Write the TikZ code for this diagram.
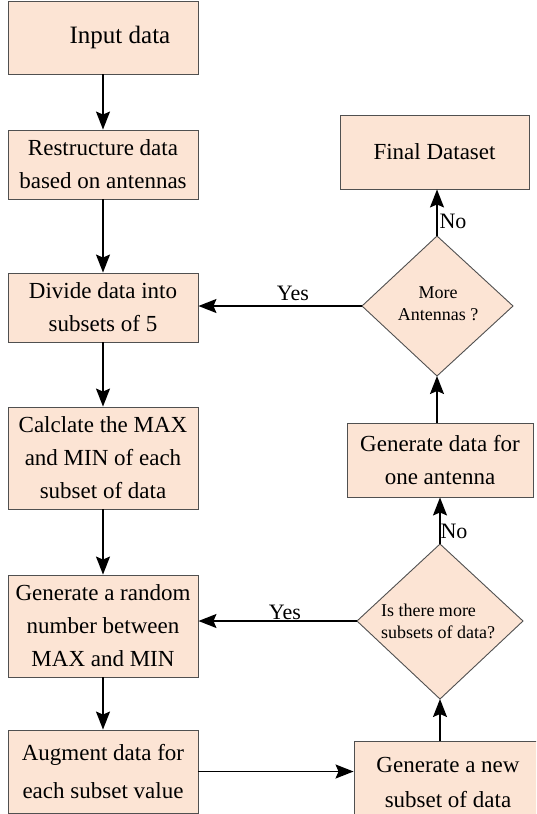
\documentclass[tikz,border=0pt]{standalone}
\usepackage{fontspec}
\setmainfont{Liberation Serif}
\usetikzlibrary{arrows.meta}
\definecolor{peach}{RGB}{252,228,212}
\definecolor{edgegray}{RGB}{80,80,80}
\begin{document}
\begin{tikzpicture}[x=1pt,y=-1pt,
  box/.style={draw=edgegray, fill=peach, line width=0.9pt, inner sep=0pt, align=center,
              minimum width=190pt, font=\fontsize{23}{33}\selectfont},
  dshape/.style={draw=edgegray, fill=peach, line width=0.9pt},
  dtext/.style={inner sep=0pt, font=\fontsize{18}{22}\selectfont},
  lbl/.style={inner sep=0pt, font=\fontsize{22}{26}\selectfont},
  arr/.style={draw=black, line width=1.5pt, -{Stealth[length=18pt,width=14pt,inset=3pt]}}]
\clip (0,0) rectangle (536,814);

% left column
\node[box, minimum height=73pt, font=\fontsize{25}{33}\selectfont] (input) at (103,37.5) {\hspace{34pt}Input data};
\node[box, minimum height=69pt] (restr) at (103,164.5) {Restructure data\\based on antennas};
\node[box, minimum height=69pt] (divide) at (103,307.5) {Divide data into\\subsets of 5};
\node[box, minimum height=102pt] (calc) at (103,458) {Calclate the MAX\\and MIN of each\\subset of data};
\node[box, minimum height=102pt] (rand) at (103,626) {Generate a random\\number between\\MAX and MIN};
\node[box, minimum height=83pt, font=\fontsize{23}{38}\selectfont] (augm) at (103,771.5) {Augment data for\\each subset value};

% right column
\node[box, minimum width=189pt, minimum height=74pt] (final) at (434.5,152) {Final Dataset};
\node[box, minimum width=186pt, minimum height=74pt] (genone) at (440,460) {Generate data for\\one antenna};
\node[box, minimum width=188pt, minimum height=82pt, font=\fontsize{23}{35}\selectfont] (newsub) at (448,782) {Generate a new\\subset of data};

% diamond 1
\coordinate (d1t) at (437,236);
\coordinate (d1r) at (513,306);
\coordinate (d1b) at (437,376);
\coordinate (d1l) at (362,306);
\draw[dshape] (d1t) -- (d1r) -- (d1b) -- (d1l) -- cycle;
\node[dtext, align=center] (d1txt) at (438,304) {More\\Antennas ?};

% diamond 2
\coordinate (d2t) at (440,544);
\coordinate (d2r) at (523,621);
\coordinate (d2b) at (440,699);
\coordinate (d2l) at (357,621);
\draw[dshape] (d2t) -- (d2r) -- (d2b) -- (d2l) -- cycle;
\node[dtext, align=left] (d2txt) at (438,621) {Is there more\\subsets of data?};

% connectors
\draw[arr] (input) -- (restr);
\draw[arr] (restr) -- (divide);
\draw[arr] (divide) -- (calc);
\draw[arr] (calc) -- (rand);
\draw[arr] (rand) -- (augm);
\draw[arr] (augm.east) -- (augm.east -| newsub.west);
\draw[arr] (d2b |- newsub.north) -- (d2b);
\draw[arr] (d2t) -- (d2t |- genone.south);
\draw[arr] (d1b |- genone.north) -- (d1b);
\draw[arr] (d1t) -- (d1t |- final.south);
\draw[arr] (d1l) -- (d1l -| divide.east);
\draw[arr] (d2l) -- (d2l -| rand.east);

% labels
\node[lbl] (yes1) at (293,293) {Yes};
\node[lbl] (yes2) at (285,612) {Yes};
\node[lbl] (no1) at (453,221) {No};
\node[lbl] (no2) at (454,531) {No};
\end{tikzpicture}
\end{document}
